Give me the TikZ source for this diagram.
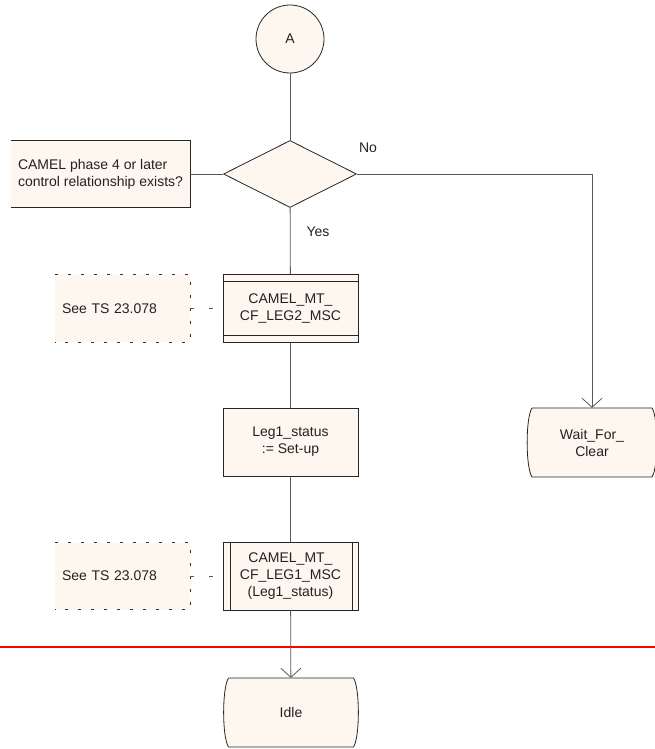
\documentclass[tikz,border=0pt]{standalone}
\usepackage{fontspec}
\setmainfont{Liberation Sans}
\usetikzlibrary{shapes.geometric,arrows.meta}
\definecolor{sdlfill}{HTML}{FDF7F0}
\definecolor{flowgray}{HTML}{595959}
\definecolor{inkgray}{HTML}{222222}
\tikzset{
    every node/.style={font=\fontsize{14}{17}\selectfont, text=inkgray},
    boxline/.style={draw=black!85, line width=0.8pt},
    sdlbox/.style={rectangle, boxline, fill=sdlfill, minimum width=135pt, minimum height=68pt, align=center, inner sep=0pt},
    notebox/.style={rectangle, fill=sdlfill, text width=121pt, inner xsep=7pt, inner ysep=0pt, minimum height=67pt, align=left},
    notedash/.style={draw=black!80, line width=0.8pt, dash pattern=on 3pt off 10pt},
    flow/.style={draw=flowgray, line width=0.8pt},
    flowarrow/.style={flow, -{Straight Barb[length=9pt,width=20pt]}},
    noteconn/.style={flow, dash pattern=on 4pt off 15pt},
}
% state symbol: rectangle with bowed sides
\newcommand\StateBox[5]{%
    \draw[boxline, fill=sdlfill] (#2-#4+5,#3-34.5) -- (#2+#4-5,#3-34.5)
        .. controls (#2+#4+1.5,#3-24.5) and (#2+#4+1.5,#3+24.5) .. (#2+#4-5,#3+34.5)
        -- (#2-#4+5,#3+34.5)
        .. controls (#2-#4-1.5,#3+24.5) and (#2-#4-1.5,#3-24.5) .. (#2-#4+5,#3-34.5);
    \node[rectangle, minimum width=2*#4 pt, minimum height=69pt, inner sep=0pt, align=center] (#1) at (#2,#3) {#5};
}

\begin{document}
\begin{tikzpicture}[x=1pt, y=-1pt]
    \useasboundingbox (0,0) rectangle (655,749);

    \node[circle, boxline, fill=sdlfill, minimum size=68pt, inner sep=0pt] (conA) at (290,39) {A};
    \node[diamond, boxline, fill=sdlfill, minimum width=133pt, minimum height=67pt, inner sep=0pt, aspect=2] (dec) at (290,174) {};
    \node[rectangle, fill=sdlfill, minimum width=179pt, minimum height=67pt, inner sep=0pt, align=left] (ask) at (100.5,174) {CAMEL phase 4 or later\\control relationship exists?};
    \draw[boxline] (ask.north west) -- (ask.north east) -- (ask.south east) -- (ask.south west);
    \node (no) at (368,148) {No};
    \node (yes) at (318,232) {Yes};

    % calls and task
    \node[sdlbox] (leg2) at (290.5,308.5) {CAMEL\_MT\_\\CF\_LEG2\_MSC};
    \draw[boxline] ([yshift=-7pt]leg2.north west) -- ([yshift=-7pt]leg2.north east);
    \draw[boxline] ([yshift=8pt]leg2.south west) -- ([yshift=8pt]leg2.south east);
    \node[sdlbox] (status) at (290.5,442) {Leg1\_status\\:= Set-up};
    \node[sdlbox] (leg1) at (290.5,576) {CAMEL\_MT\_\\CF\_LEG1\_MSC\\(Leg1\_status)};
    \draw[boxline] ([xshift=8pt]leg1.north west) -- ([xshift=8pt]leg1.south west);
    \draw[boxline] ([xshift=-6pt]leg1.north east) -- ([xshift=-6pt]leg1.south east);

    % comments
    \node[notebox] (see2) at (122.5,308.5) {See TS 23.078};
    \draw[notedash] (see2.north west) -- (see2.north east) -- (see2.south east) -- (see2.south west);
    \node[notebox] (see1) at (122.5,576) {See TS 23.078};
    \draw[notedash] (see1.north west) -- (see1.north east) -- (see1.south east) -- (see1.south west);

    % states
    \StateBox{wait}{592}{442.5}{65}{Wait\_For\_\\Clear}
    \StateBox{idle}{291}{712.5}{67.5}{Idle}

    \draw[red, line width=2pt] (0,647) -- (655,647);

    % flow lines
    \draw[flow] (conA) -- (dec);
    \draw[flow] (ask.east) -- (dec.west);
    \draw[flowarrow] (dec.east) -| (wait.north);
    \draw[flow] (dec) -- (leg2);
    \draw[flow] (leg2) -- (status);
    \draw[flow] (status) -- (leg1);
    \draw[flowarrow] (leg1) -- (idle);
    \draw[noteconn] (see2.east) -- (leg2.west);
    \draw[noteconn] (see1.east) -- (leg1.west);
\end{tikzpicture}
\end{document}
